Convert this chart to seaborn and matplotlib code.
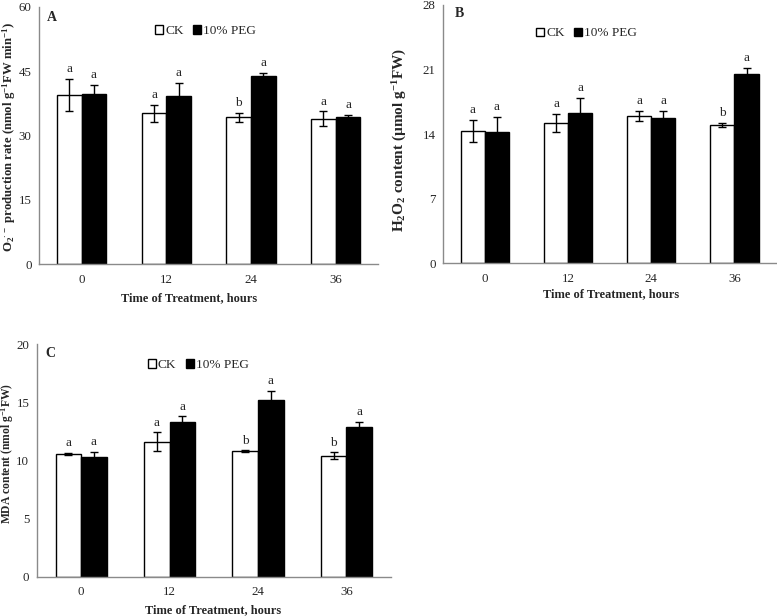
import numpy as np
import pandas as pd
import matplotlib
matplotlib.use("Agg")
import matplotlib.pyplot as plt
import seaborn as sns
from matplotlib.patches import Patch

sns.set_theme(style="white")
plt.rcParams["font.family"] = ["Liberation Serif", "DejaVu Serif"]
plt.rcParams["mathtext.default"] = "regular"

# shared categories
times = ["0", "12", "24", "36"]
treatments = ["CK", "10% PEG"]

# panel A: O2.- production rate
a_ck = [39.4, 35.2, 34.2, 33.9]
a_peg = [39.6, 39.3, 43.8, 34.4]
a_ck_err = [3.7, 2.0, 1.1, 1.7]
a_peg_err = [2.1, 3.0, 0.8, 0.3]
a_ck_sig = ["a", "a", "b", "a"]
a_peg_sig = ["a", "a", "a", "a"]

# panel B: H2O2 content
b_ck = [14.3, 15.2, 16.0, 15.0]
b_peg = [14.2, 16.3, 15.8, 20.5]
b_ck_err = [1.2, 0.95, 0.55, 0.25]
b_peg_err = [1.7, 1.65, 0.7, 0.65]
b_ck_sig = ["a", "a", "a", "b"]
b_peg_sig = ["a", "a", "a", "a"]

# panel C: MDA content
c_ck = [10.56, 11.6, 10.8, 10.4]
c_peg = [10.3, 13.3, 15.2, 12.9]
c_ck_err = [0.1, 0.8, 0.05, 0.3]
c_peg_err = [0.45, 0.5, 0.8, 0.4]
c_ck_sig = ["a", "a", "b", "b"]
c_peg_sig = ["a", "a", "a", "a"]

SPINE = "#8a8a8a"


def draw_panel(ax, ck, peg, ck_err, peg_err, ck_sig, peg_sig, ymax, ystep,
               ylabel, ylab_size, tag, tag_xy, leg_xy, xlab_xy, ylab_xy):
    df = pd.DataFrame({
        "time": times * 2,
        "value": ck + peg,
        "treatment": [treatments[0]] * 4 + [treatments[1]] * 4,
    })
    sns.barplot(data=df, x="time", y="value", hue="treatment", order=times,
                hue_order=treatments, palette=["white", "black"],
                edgecolor="black", linewidth=1.0, width=0.58, errorbar=None,
                legend=False, ax=ax)
    pad = ymax * 0.015
    for cont, errs, sigs in zip(ax.containers, [ck_err, peg_err], [ck_sig, peg_sig]):
        xs = [b.get_x() + b.get_width() / 2 for b in cont]
        ys = [b.get_height() for b in cont]
        ax.errorbar(xs, ys, yerr=errs, fmt="none", ecolor="black",
                    elinewidth=1.0, capsize=3, capthick=1.0)
        for x, y, e, s in zip(xs, ys, errs, sigs):
            ax.text(x, y + e + pad, s, ha="center", va="bottom", fontsize=9.5)

    ax.set_ylim(0, ymax)
    ax.set_yticks(np.arange(0, ymax + 0.1, ystep))
    ax.set_xlim(-0.5, 3.5)
    ax.set_xticks(range(4))
    ax.set_xticklabels(times)
    ax.set_xticks(np.arange(-0.5, 4, 1), minor=True)
    ax.tick_params(axis="x", which="major", length=0, pad=7, labelsize=9.3)
    ax.tick_params(axis="x", which="minor", length=4, direction="out", color=SPINE)
    ax.tick_params(axis="y", length=4, direction="out", color=SPINE, labelsize=9.3, pad=1.5)
    for side in ["top", "right"]:
        ax.spines[side].set_visible(False)
    for side in ["left", "bottom"]:
        ax.spines[side].set_color(SPINE)
        ax.spines[side].set_linewidth(1.0)
    ax.set_xlabel("Time of Treatment, hours", fontsize=8.9, fontweight="bold")
    ax.xaxis.label.set_va("center")
    ax.xaxis.set_label_coords(*xlab_xy)
    ax.set_ylabel(ylabel, fontsize=ylab_size, fontweight="bold")
    ax.yaxis.label.set_va("center")
    ax.yaxis.set_label_coords(*ylab_xy)
    ax.text(tag_xy[0], tag_xy[1], tag, transform=ax.transAxes, fontsize=10,
            fontweight="bold", ha="left", va="top")

    handles = [Patch(facecolor="white", edgecolor="black", linewidth=1.0),
               Patch(facecolor="black", edgecolor="black")]
    ax.legend(handles, treatments, loc="center", bbox_to_anchor=leg_xy,
              ncol=2, frameon=False, fontsize=9.5, handlelength=0.6,
              handleheight=0.6, handletextpad=0.15, columnspacing=0.7)


fig = plt.figure(figsize=(7.77, 6.16), dpi=100)
ax_a = fig.add_axes([0.0506, 0.571, 0.436, 0.418])
ax_b = fig.add_axes([0.5705, 0.5726, 0.4283, 0.4193])
ax_c = fig.add_axes([0.0476, 0.0638, 0.455, 0.3777])

draw_panel(ax_a, a_ck, a_peg, a_ck_err, a_peg_err, a_ck_sig, a_peg_sig, 60, 15,
           r"O$_2$$^{\cdot-}$ production rate (nmol g$^{-1}$FW min$^{-1}$)", 9.2,
           "A", (0.023, 0.985), (0.49, 0.905), (0.443, -0.132), (-0.09, 0.496))
draw_panel(ax_b, b_ck, b_peg, b_ck_err, b_peg_err, b_ck_sig, b_peg_sig, 28, 7,
           r"H$_2$O$_2$ content (µmol g$^{-1}$FW)", 11.0,
           "B", (0.035, 0.992), (0.43, 0.89), (0.504, -0.119), (-0.13, 0.477))
draw_panel(ax_c, c_ck, c_peg, c_ck_err, c_peg_err, c_ck_sig, c_peg_sig, 20, 5,
           r"MDA content (nmol g$^{-1}$FW)", 8.4,
           "C", (0.0225, 0.987), (0.456, 0.91), (0.497, -0.143), (-0.083, 0.53))

fig.savefig("out.png", dpi=100, facecolor="white")
